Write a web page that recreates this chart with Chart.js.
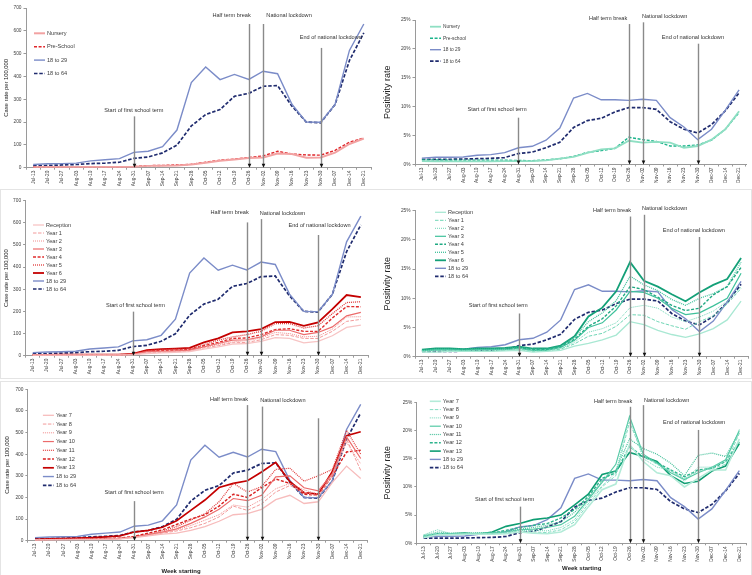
<!DOCTYPE html>
<html><head><meta charset="utf-8">
<script src="https://cdn.jsdelivr.net/npm/chart.js@4.4.0/dist/chart.umd.min.js"></script>
<style>
html,body{margin:0;padding:0;background:#fff;}
body{width:752px;height:575px;position:relative;overflow:hidden;}
.p{position:absolute;}
.p canvas{position:absolute;left:0;top:0;}
.b{position:absolute;box-sizing:border-box;border:1px solid #e4e4e4;pointer-events:none;}
</style></head><body>
<div class="p" style="left:0;top:0;width:376px;height:186px"><canvas id="c1" width="376" height="186"></canvas></div>
<div class="p" style="left:376px;top:0;width:376px;height:186px"><canvas id="c2" width="376" height="186"></canvas></div>
<div class="p" style="left:0;top:189px;width:376px;height:189px"><canvas id="c3" width="376" height="189"></canvas></div>
<div class="p" style="left:376px;top:189px;width:376px;height:189px"><canvas id="c4" width="376" height="189"></canvas></div>
<div class="p" style="left:0;top:381px;width:376px;height:194px"><canvas id="c5" width="376" height="194"></canvas></div>
<div class="p" style="left:376px;top:381px;width:376px;height:194px"><canvas id="c6" width="376" height="194"></canvas></div>
<div class="b" style="left:0;top:189px;width:752px;height:190px"></div>
<div class="b" style="left:0;top:381px;width:752px;height:195px"></div>
<script>
// ---------- DATA ----------
const weeks = ['Jul-13','Jul-20','Jul-27','Aug-03','Aug-10','Aug-17','Aug-24','Aug-31','Sep-07','Sep-14','Sep-21','Sep-28','Oct-05','Oct-12','Oct-19','Oct-26','Nov-02','Nov-09','Nov-16','Nov-23','Nov-30','Dec-07','Dec-14','Dec-21'];

const eventNames = ['Start of first school term','Half term break','National lockdown','End of national lockdown'];
const eventWeeks = ['Aug-31','Oct-26','Nov-02','Nov-30'];

const caseRateTicks = [0,100,200,300,400,500,600,700];
const posRateTicks = [0,5,10,15,20,25];

const caseRate18to29 = [14,17,18,20,30,35,40,67,72,92,165,373,441,386,409,387,423,412,278,200,199,277,514,630];
const caseRate18to64 = [8,10,12,14,18,20,24,41,47,65,99,183,233,255,313,326,357,360,270,200,197,277,470,591];
const caseRateNursery = [2,3,3,3,3,3,3,4,8,9,10,14,22,30,36,42,45,62,60,44,45,66,104,128];
const caseRatePreSchool = [3,4,4,4,4,4,4,5,9,10,12,15,24,33,38,45,52,72,60,56,55,76,112,130];

const posRate18to29 = [1.1,1.25,1.25,1.3,1.6,1.7,2.05,2.9,3.15,4.2,6.3,11.5,12.3,11.2,11.2,11.1,11.3,11.1,8.1,6.5,4.3,6.1,9.4,12.9];
const posRate18to64 = [0.9,0.9,0.9,0.95,1.0,1.05,1.2,1.9,2.15,2.9,3.85,6.4,7.6,8.0,9.1,9.85,9.85,9.55,7.4,6.1,5.45,6.9,9.3,12.4];
const posRateNursery = [0.6,0.55,0.55,0.55,0.55,0.55,0.6,0.6,0.6,0.7,1.0,1.3,2.0,2.6,2.8,4.1,3.8,3.9,3.8,2.9,3.2,4.3,6.1,9.2];
const posRatePreSchool = [0.8,0.8,0.75,0.75,0.75,0.75,0.75,0.7,0.65,0.8,1.0,1.4,2.1,2.4,2.8,4.7,4.3,4.0,3.2,3.2,3.4,4.2,6.1,9.0];

const caseRateReception = [2,2,2,2,2,2,3,4,10,13,15,18,30,40,52,55,65,82,78,58,65,90,128,138];
const caseRateYear1 = [2,3,3,3,3,3,3,5,13,15,18,20,35,45,58,60,72,95,92,78,78,110,155,164];
const caseRateYear2 = [3,3,3,3,3,3,4,5,15,18,20,22,38,50,62,68,80,105,100,85,88,120,175,176];
const caseRateYear3 = [3,3,3,3,3,3,4,6,18,20,22,25,40,55,70,72,85,115,115,95,105,130,180,196];
const caseRateYear4 = [3,4,4,4,4,4,4,6,20,24,25,28,45,60,78,80,95,118,122,110,110,170,222,221];
const caseRateYear5 = [4,4,4,4,4,4,5,7,22,27,30,30,50,70,85,95,110,145,145,125,135,190,240,244];
const caseRateYear6 = [4,4,5,5,5,5,5,8,25,30,32,35,60,78,105,110,120,152,153,135,150,210,274,265];

const posRateReception = [0.8,0.8,0.9,0.9,0.9,0.9,1.0,1.1,0.8,0.9,1.1,1.8,2.3,2.9,3.7,6.0,5.5,4.5,3.8,3.3,3.9,4.8,6.3,9.5];
const posRateYear1 = [0.9,1.0,1.0,1.0,1.0,1.0,1.1,1.2,0.9,1.0,1.3,2.2,3.5,4.0,5.2,7.2,7.1,6.0,5.3,4.7,6.0,7.0,9.0,11.7];
const posRateYear2 = [1.0,1.1,1.1,1.0,1.1,1.1,1.2,1.3,1.0,1.0,1.4,2.5,4.2,4.8,5.8,8.4,8.8,8.3,6.8,6.0,6.8,7.8,9.5,12.0];
const posRateYear3 = [1.0,1.2,1.2,1.1,1.2,1.2,1.2,1.4,1.1,1.1,1.6,2.8,5.0,5.8,8.0,11.2,11.0,10.0,8.3,7.2,7.5,8.7,10.0,14.3];
const posRateYear4 = [1.1,1.2,1.3,1.2,1.2,1.3,1.3,1.5,1.2,1.2,1.7,3.0,5.2,6.5,8.7,12.0,11.5,10.2,8.8,7.9,8.3,10.6,12.0,15.3];
const posRateYear5 = [1.1,1.3,1.3,1.3,1.3,1.3,1.4,1.6,1.3,1.3,1.8,3.3,6.0,7.5,9.6,13.8,12.3,11.3,9.8,8.8,10.0,10.8,12.0,16.2];
const posRateYear6 = [1.2,1.4,1.4,1.3,1.4,1.4,1.5,1.7,1.4,1.4,1.9,3.5,6.9,8.4,11.2,16.2,13.0,12.0,10.7,9.5,11.0,12.3,13.3,16.9];

const caseRateYear7 = [3,4,4,5,5,6,8,14,22,30,35,48,65,90,120,125,145,190,210,172,180,270,345,288];
const caseRateYear8 = [4,5,5,6,6,7,9,15,24,35,45,60,80,110,160,140,170,225,255,225,205,300,470,325];
const caseRateYear9 = [4,5,6,6,7,8,10,16,26,38,50,70,95,120,165,155,190,240,265,235,215,300,455,355];
const caseRateYear10 = [4,5,6,7,7,8,10,17,28,40,55,80,110,145,195,185,210,295,300,245,230,310,480,380];
const caseRateYear11 = [5,6,6,7,8,9,11,18,30,45,65,95,125,180,265,225,250,330,335,275,300,330,510,400];
const caseRateYear12 = [5,6,7,8,9,10,12,20,35,50,75,100,120,160,215,200,245,285,265,215,210,300,410,418];
const caseRateYear13 = [6,8,10,12,14,18,22,40,48,62,92,140,188,246,265,277,318,362,273,222,215,320,485,504];

const posRateYear7 = [1.0,1.5,1.5,1.6,1.6,1.6,1.7,2.0,1.8,1.7,2.0,3.3,6.5,9.5,10.5,17.5,14.5,12.5,12.0,10.0,11.5,13.0,13.0,18.5];
const posRateYear8 = [1.2,1.8,1.6,1.6,1.7,1.7,1.8,2.2,2.0,1.9,2.4,3.8,7.0,10.0,12.0,21.5,15.5,14.0,12.8,11.5,12.8,13.2,14.0,19.5];
const posRateYear9 = [1.5,2.4,1.7,1.7,1.8,1.8,1.9,2.3,2.3,2.2,2.8,4.2,7.5,10.2,12.5,22.3,15.0,13.5,13.0,11.0,13.5,13.5,14.5,20.2];
const posRateYear10 = [1.3,1.6,1.7,1.7,1.7,1.8,2.0,2.4,2.5,2.8,3.3,4.8,7.8,10.8,14.0,22.5,15.8,14.2,12.5,11.3,12.5,13.5,14.8,20.0];
const posRateYear11 = [1.4,2.0,1.8,1.8,1.9,1.9,2.1,2.5,2.8,3.2,3.8,5.5,8.0,11.0,13.0,18.5,16.8,15.8,14.2,12.0,15.6,16.0,15.4,19.7];
const posRateYear12 = [1.1,1.7,1.7,1.7,1.7,1.8,2.3,2.8,3.2,3.5,4.5,6.0,8.3,11.5,12.5,17.2,15.3,14.3,13.0,11.8,13.0,13.3,14.5,18.0];
const posRateYear13 = [1.2,1.7,1.7,1.8,1.6,2.0,3.0,3.5,4.2,4.5,5.0,6.8,8.7,12.2,12.8,16.1,15.4,14.5,12.0,10.6,11.0,12.8,13.7,17.7];

// ---------- STYLES ----------
const FONT = "'Liberation Sans', Arial, sans-serif";
const S = {
  blue: {borderColor:'#7b8cc8', borderWidth:1.4},
  navy: {borderColor:'#1f2b6e', borderWidth:1.7, borderDash:[3.5,1.8]},
};
function ds(label, data, st){ return Object.assign({label, data, pointRadius:0, tension:0, fill:false}, st); }

const overlay = {
  id:'overlay',
  afterDatasetsDraw(chart){
    const o = chart.options.plugins.overlay; if(!o) return;
    const {ctx, chartArea:ca, scales:{x,y}} = chart;
    ctx.save();
    o.events.forEach((ev,i)=>{
      const idx = weeks.indexOf(eventWeeks[i]);
      const px = Math.round(x.getPixelForValue(idx))+0.5;
      const top = y.getPixelForValue(ev.top);
      ctx.strokeStyle = '#8a8a8a'; ctx.lineWidth = 1.4; ctx.setLineDash([]);
      ctx.beginPath(); ctx.moveTo(px, top); ctx.lineTo(px, ca.bottom-3); ctx.stroke();
      ctx.fillStyle = '#111';
      ctx.beginPath(); ctx.moveTo(px-1.8, ca.bottom-4); ctx.lineTo(px+1.8, ca.bottom-4); ctx.lineTo(px, ca.bottom); ctx.closePath(); ctx.fill();
      if (ev.lx !== undefined){
        ctx.font = o.evFont; ctx.fillStyle = '#333'; ctx.textAlign='center'; ctx.textBaseline='middle';
        ctx.fillText(eventNames[i], x.getPixelForValue(ev.lx), y.getPixelForValue(ev.ly));
      }
    });
    ctx.restore();
  },
  afterDraw(chart){
    const o = chart.options.plugins.overlay; if(!o) return;
    const {ctx, chartArea:ca} = chart;
    ctx.save();
    const L = o.legend;
    chart.data.datasets.forEach((d,i)=>{
      const yy = ca.top + L.dy + i*L.gap, xx = ca.left + L.dx;
      ctx.strokeStyle = d.borderColor; ctx.lineWidth = d.borderWidth; ctx.setLineDash(d.borderDash||[]);
      ctx.beginPath(); ctx.moveTo(xx,yy); ctx.lineTo(xx+L.len,yy); ctx.stroke();
      ctx.setLineDash([]);
      ctx.fillStyle='#404040'; ctx.font=L.font; ctx.textAlign='left'; ctx.textBaseline='middle';
      ctx.fillText(d.label, xx+L.len+2, yy);
    });
    if (o.xTitle){
      ctx.font = 'bold 6px '+FONT; ctx.fillStyle='#222'; ctx.textAlign='center'; ctx.textBaseline='middle';
      ctx.fillText('Week starting', o.xTitle.x, o.xTitle.y);
    }
    ctx.restore();
  }
};

function makeChart(id, datasets, cfg){
  const isPos = cfg.pos;
  new Chart(document.getElementById(id), {
    type:'line',
    data:{labels:weeks, datasets},
    plugins:[overlay],
    options:{
      responsive:false, animation:false, devicePixelRatio:1,
      layout:{padding:{left:0, top:cfg.top, right:cfg.right, bottom:0}},
      plugins:{legend:{display:false}, tooltip:{enabled:false}, overlay:cfg.overlay},
      scales:{
        x:{type:'category', offset:true,
          afterFit(s){ s.height = cfg.xH; },
          ticks:{autoSkip:false, minRotation:90, maxRotation:90, padding:1, color:'#404040', font:{size:4.8, family:FONT}},
          grid:{drawOnChartArea:false, tickLength:2, color:'#9a9a9a', offset:true},
          border:{color:'#9a9a9a'}},
        y:{min:0, max: isPos ? posRateTicks[posRateTicks.length-1] : caseRateTicks[caseRateTicks.length-1],
          afterFit(s){ s.width = cfg.yW; },
          afterBuildTicks(s){ s.ticks = (isPos?posRateTicks:caseRateTicks).map(v=>({value:v})); },
          ticks:{padding:2, color:'#404040', font:{size:4.8, family:FONT}, callback:v=> isPos ? v+'%' : v},
          grid:{drawOnChartArea:false, tickLength:2.5, color:'#9a9a9a'},
          border:{color:'#9a9a9a'},
          title:{display:true, text: isPos?'Positivity rate':'Case rate per 100,000', color:'#222',
            font:{size: isPos?9:5.8, family:FONT}, padding:{top:cfg.titlePad, bottom:0}}}
      }
    }
  });
}

const LEGF = '5.6px '+FONT;
const EVF = '5.6px '+FONT;

// Panel 1
makeChart('c1', [
  ds('Nursery', caseRateNursery, {borderColor:'#f2a2a2', borderWidth:2}),
  ds('Pre-School', caseRatePreSchool, {borderColor:'#e0262a', borderWidth:1.4, borderDash:[3,1.6]}),
  ds('18 to 29', caseRate18to29, S.blue),
  ds('18 to 64', caseRate18to64, S.navy)
], {pos:false, top:8, right:5, xH:18.3, yW:26, titlePad:3.4, overlay:{
  evFont:EVF,
  events:[{top:225,lx:7,ly:253},{top:630,lx:13.8,ly:667},{top:630,lx:17.8,ly:666},{top:525,lx:20.7,ly:570}],
  legend:{dx:8, dy:25.3, gap:13.4, len:11, font:LEGF}}});

// Panel 2
makeChart('c2', [
  ds('Nursery', posRateNursery, {borderColor:'#8fdfc3', borderWidth:1.8}),
  ds('Pre-school', posRatePreSchool, {borderColor:'#1bb48b', borderWidth:1.4, borderDash:[3,1.6]}),
  ds('18 to 29', posRate18to29, S.blue),
  ds('18 to 64', posRate18to64, S.navy)
], {pos:true, top:20, right:6, xH:21.5, yW:39, titlePad:6.5, overlay:{
  evFont:EVF,
  events:[{top:8.1,lx:5.45,ly:9.5},{top:24.3,lx:13.5,ly:25.3},{top:24.6,lx:17.6,ly:25.6},{top:20.9,lx:19.65,ly:21.9}],
  legend:{dx:15, dy:6.7, gap:11.5, len:11, font:'4.8px '+FONT}}});

// Panel 3
makeChart('c3', [
  ds('Reception', caseRateReception, {borderColor:'#f7c4c4', borderWidth:1.3}),
  ds('Year 1', caseRateYear1, {borderColor:'#f29a9a', borderWidth:1, borderDash:[3.5,1.5]}),
  ds('Year 2', caseRateYear2, {borderColor:'#f08a8a', borderWidth:1, borderDash:[1,1]}),
  ds('Year 3', caseRateYear3, {borderColor:'#ec6b6b', borderWidth:1.2}),
  ds('Year 4', caseRateYear4, {borderColor:'#e02d2d', borderWidth:1.4, borderDash:[3,1.6]}),
  ds('Year 5', caseRateYear5, {borderColor:'#e03a3a', borderWidth:1.3, borderDash:[1,1]}),
  ds('Year 6', caseRateYear6, {borderColor:'#c40000', borderWidth:1.8}),
  ds('18 to 29', caseRate18to29, S.blue),
  ds('18 to 64', caseRate18to64, S.navy)
], {pos:false, top:11.7, right:8, xH:22.3, yW:25.6, titlePad:3.2, overlay:{
  evFont:EVF,
  events:[{top:199,lx:7.2,ly:229},{top:602,lx:13.8,ly:647},{top:617,lx:17.5,ly:644},{top:545,lx:20.1,ly:589}],
  legend:{dx:7.4, dy:24.3, gap:8, len:11, font:LEGF}}});

// Panel 4
makeChart('c4', [
  ds('Reception', posRateReception, {borderColor:'#a9e8d3', borderWidth:1.3}),
  ds('Year 1', posRateYear1, {borderColor:'#6fd5b5', borderWidth:1, borderDash:[3.5,1.5]}),
  ds('Year 2', posRateYear2, {borderColor:'#6fd5b5', borderWidth:1, borderDash:[1,1]}),
  ds('Year 3', posRateYear3, {borderColor:'#3fc19b', borderWidth:1.2}),
  ds('Year 4', posRateYear4, {borderColor:'#1fa982', borderWidth:1.4, borderDash:[3,1.6]}),
  ds('Year 5', posRateYear5, {borderColor:'#3fc19b', borderWidth:1.3, borderDash:[1,1]}),
  ds('Year 6', posRateYear6, {borderColor:'#14a078', borderWidth:1.8}),
  ds('18 to 29', posRate18to29, S.blue),
  ds('18 to 64', posRate18to64, S.navy)
], {pos:true, top:21.7, right:4, xH:21.3, yW:39, titlePad:6.2, overlay:{
  evFont:EVF,
  events:[{top:7.4,lx:5.5,ly:8.85},{top:24.0,lx:13.7,ly:25.1},{top:24.3,lx:17.5,ly:25.3},{top:20.5,lx:19.6,ly:21.7}],
  legend:{dx:20, dy:1.6, gap:8, len:11, font:LEGF}}});

// Panel 5
makeChart('c5', [
  ds('Year 7', caseRateYear7, {borderColor:'#f7bcbc', borderWidth:1.3}),
  ds('Year 8', caseRateYear8, {borderColor:'#f29a9a', borderWidth:1, borderDash:[3.5,1.5]}),
  ds('Year 9', caseRateYear9, {borderColor:'#f08a8a', borderWidth:1, borderDash:[1,1]}),
  ds('Year 10', caseRateYear10, {borderColor:'#ec6b6b', borderWidth:1.2}),
  ds('Year 11', caseRateYear11, {borderColor:'#e03a3a', borderWidth:1.2, borderDash:[1,1]}),
  ds('Year 12', caseRateYear12, {borderColor:'#d81f1f', borderWidth:1.4, borderDash:[3,1.6]}),
  ds('Year 13', caseRateYear13, {borderColor:'#c40000', borderWidth:1.7}),
  ds('18 to 29', caseRate18to29, S.blue),
  ds('18 to 64', caseRate18to64, S.navy)
], {pos:false, top:8.3, right:8.2, xH:34.3, yW:27.9, titlePad:3.8, overlay:{
  evFont:EVF,
  events:[{top:183,lx:7.0,ly:222},{top:627,lx:13.7,ly:655},{top:620,lx:17.5,ly:648},{top:566}],
  legend:{dx:15, dy:26, gap:8.75, len:11, font:LEGF},
  xTitle:{x:181, y:190}}});

// Panel 6
makeChart('c6', [
  ds('Year 7', posRateYear7, {borderColor:'#b3ebd8', borderWidth:1.6}),
  ds('Year 8', posRateYear8, {borderColor:'#82dcc1', borderWidth:1, borderDash:[3.5,1.5]}),
  ds('Year 9', posRateYear9, {borderColor:'#6fd4b6', borderWidth:1, borderDash:[1,1]}),
  ds('Year 10', posRateYear10, {borderColor:'#55c9a5', borderWidth:1.2}),
  ds('Year 11', posRateYear11, {borderColor:'#45c09a', borderWidth:1.2, borderDash:[1,1]}),
  ds('Year 12', posRateYear12, {borderColor:'#2db48d', borderWidth:1.4, borderDash:[3,1.6]}),
  ds('Year 13', posRateYear13, {borderColor:'#0f9e73', borderWidth:1.6}),
  ds('18 to 29', posRate18to29, S.blue),
  ds('18 to 64', posRate18to64, S.navy)
], {pos:true, top:21.3, right:5.8, xH:31.7, yW:40.8, titlePad:6.2, overlay:{
  evFont:EVF,
  events:[{top:6.5,lx:5.9,ly:7.85},{top:24.2,lx:13.8,ly:25.2},{top:24.5,lx:17.7,ly:25.4},{top:20.1,lx:19.7,ly:21.4}],
  legend:{dx:13, dy:-1, gap:8.3, len:11, font:LEGF},
  xTitle:{x:205.7, y:187.3}}});
</script>
</body></html>
